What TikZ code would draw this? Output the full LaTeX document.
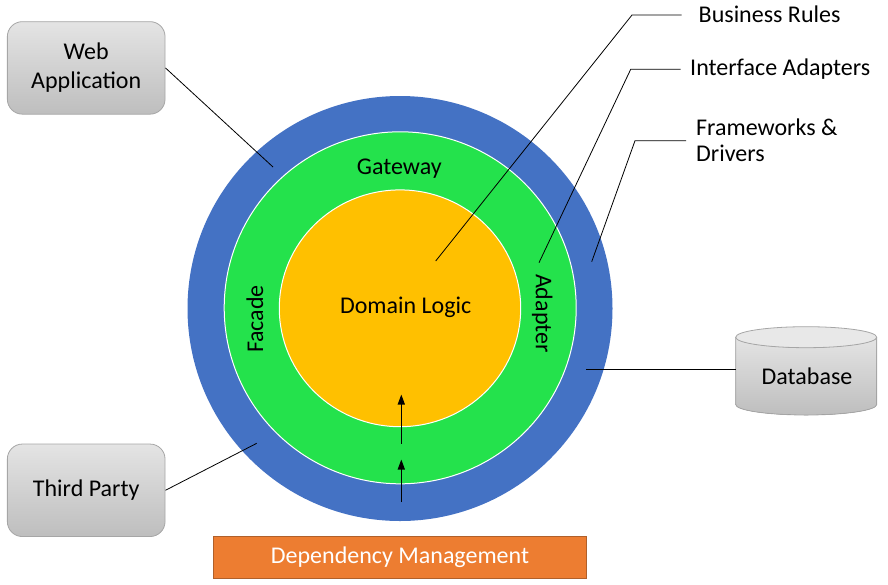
\documentclass[tikz,border=0pt]{standalone}
\usepackage{fontspec}
\setmainfont{Carlito}
\usetikzlibrary{shapes.geometric,arrows.meta}
\definecolor{ringblue}{HTML}{4472C4}
\definecolor{ringgreen}{HTML}{24E24C}
\definecolor{coreyellow}{HTML}{FFC000}
\definecolor{deporange}{HTML}{ED7D31}
\definecolor{deporangeb}{HTML}{B0602A}
\definecolor{boxborder}{HTML}{A6A6A6}
\definecolor{boxtop}{HTML}{E4E4E4}
\definecolor{boxbot}{HTML}{BEBEBE}
\begin{document}
\begin{tikzpicture}[x=1pt,y=-1pt,
  font=\fontsize{24}{29}\selectfont,
  greybox/.style={rounded corners=15pt, draw=boxborder, line width=0.8pt,
    top color=boxtop, bottom color=boxbot, minimum width=157.7pt,
    minimum height=92.5pt, align=center, inner sep=0pt},
  lbl/.style={anchor=west, inner sep=0pt, align=left},
  leadline/.style={draw=black, line width=0.8pt},
  deparrow/.style={draw=black, line width=1.3pt, -{Triangle[width=7pt,length=10pt]}},
  plain/.style={inner sep=0pt}]
\useasboundingbox (0,0) rectangle (888,584);

% rings
\node[circle, fill=ringblue, minimum size=425pt, inner sep=0pt] (outer) at (400,308.5) {};
\node[circle, fill=ringgreen, draw=white, line width=1pt, minimum size=352pt, inner sep=0pt] (middle) at (400.2,307.8) {};
\node[ellipse, fill=coreyellow, draw=white, line width=1pt, minimum width=241.4pt, minimum height=236.8pt, inner sep=0pt] (core) at (400,308.3) {};

\node[plain] (gateway) at (399.3,168.3) {Gateway};
\node[plain] (domain) at (405.7,307) {Domain Logic};
\node[plain, rotate=90] (facade) at (255,319) {Facade};
\node[plain, rotate=-90] (adapter) at (542.3,313.3) {Adapter};

% dependency arrows
\coordinate (a1s) at (401.3,443.5);
\coordinate (a1e) at (401.3,394.5);
\coordinate (a2s) at (401.3,502);
\coordinate (a2e) at (401.3,459.5);
\draw[deparrow] (a1s) -- (a1e);
\draw[deparrow] (a2s) -- (a2e);

% boxes
\node[greybox] (web) at (86.2,67.9) {Web\\Application};
\node[greybox] (third) at (86.2,490.3) {Third Party};
\node[draw=deporangeb, fill=deporange, line width=0.8pt, minimum width=373.3pt,
      minimum height=41.7pt, inner sep=0pt, text=white] (dep) at (400,557.5) {Dependency Management};

% database cylinder
\fill[top color=boxtop, bottom color=boxbot]
  (735.7,337.2) -- (735.7,404.5)
  arc[start angle=180, end angle=0, x radius=70.5, y radius=10.5]
  -- (876.7,337.2)
  arc[start angle=0, end angle=180, x radius=70.5, y radius=10.5] -- cycle;
\draw[boxborder, line width=0.8pt]
  (735.7,337.2) -- (735.7,404.5)
  arc[start angle=180, end angle=0, x radius=70.5, y radius=10.5]
  -- (876.7,337.2);
\draw[boxborder, line width=0.8pt, fill=boxtop!85!white] (806.2,337.2) ellipse[x radius=70.5, y radius=10.5];
\node[plain] (db) at (807,376.7) {Database};
\coordinate (dbedge) at (735.7,369.3);

% labels
\node[lbl] (br) at (698.5,14.5) {Business Rules};
\node[lbl] (ia) at (690,69.3) {Interface Adapters};
\node[lbl, font=\fontsize{24}{26}\selectfont] (fd) at (696,140) {Frameworks \&\\Drivers};

% leader lines
\coordinate (webpt) at (273,167);
\coordinate (thirdpt) at (256.7,443.3);
\coordinate (brpt) at (435.7,261);
\coordinate (brbend) at (632,15);
\coordinate (brend) at (681.7,15);
\coordinate (iapt) at (539,262.7);
\coordinate (iabend) at (630.7,69.3);
\coordinate (iaend) at (680.7,69.3);
\coordinate (fdpt) at (591.7,261.7);
\coordinate (fdbend) at (635,140.7);
\coordinate (fdend) at (686,140.7);
\coordinate (dbpt) at (586,369.3);

\draw[leadline] (web.east) -- (webpt);
\draw[leadline] (third.east) -- (thirdpt);
\draw[leadline] (brpt) -- (brbend) -- (brend);
\draw[leadline] (iapt) -- (iabend) -- (iaend);
\draw[leadline] (fdpt) -- (fdbend) -- (fdend);
\draw[leadline] (dbpt) -- (dbedge);
\end{tikzpicture}
\end{document}
